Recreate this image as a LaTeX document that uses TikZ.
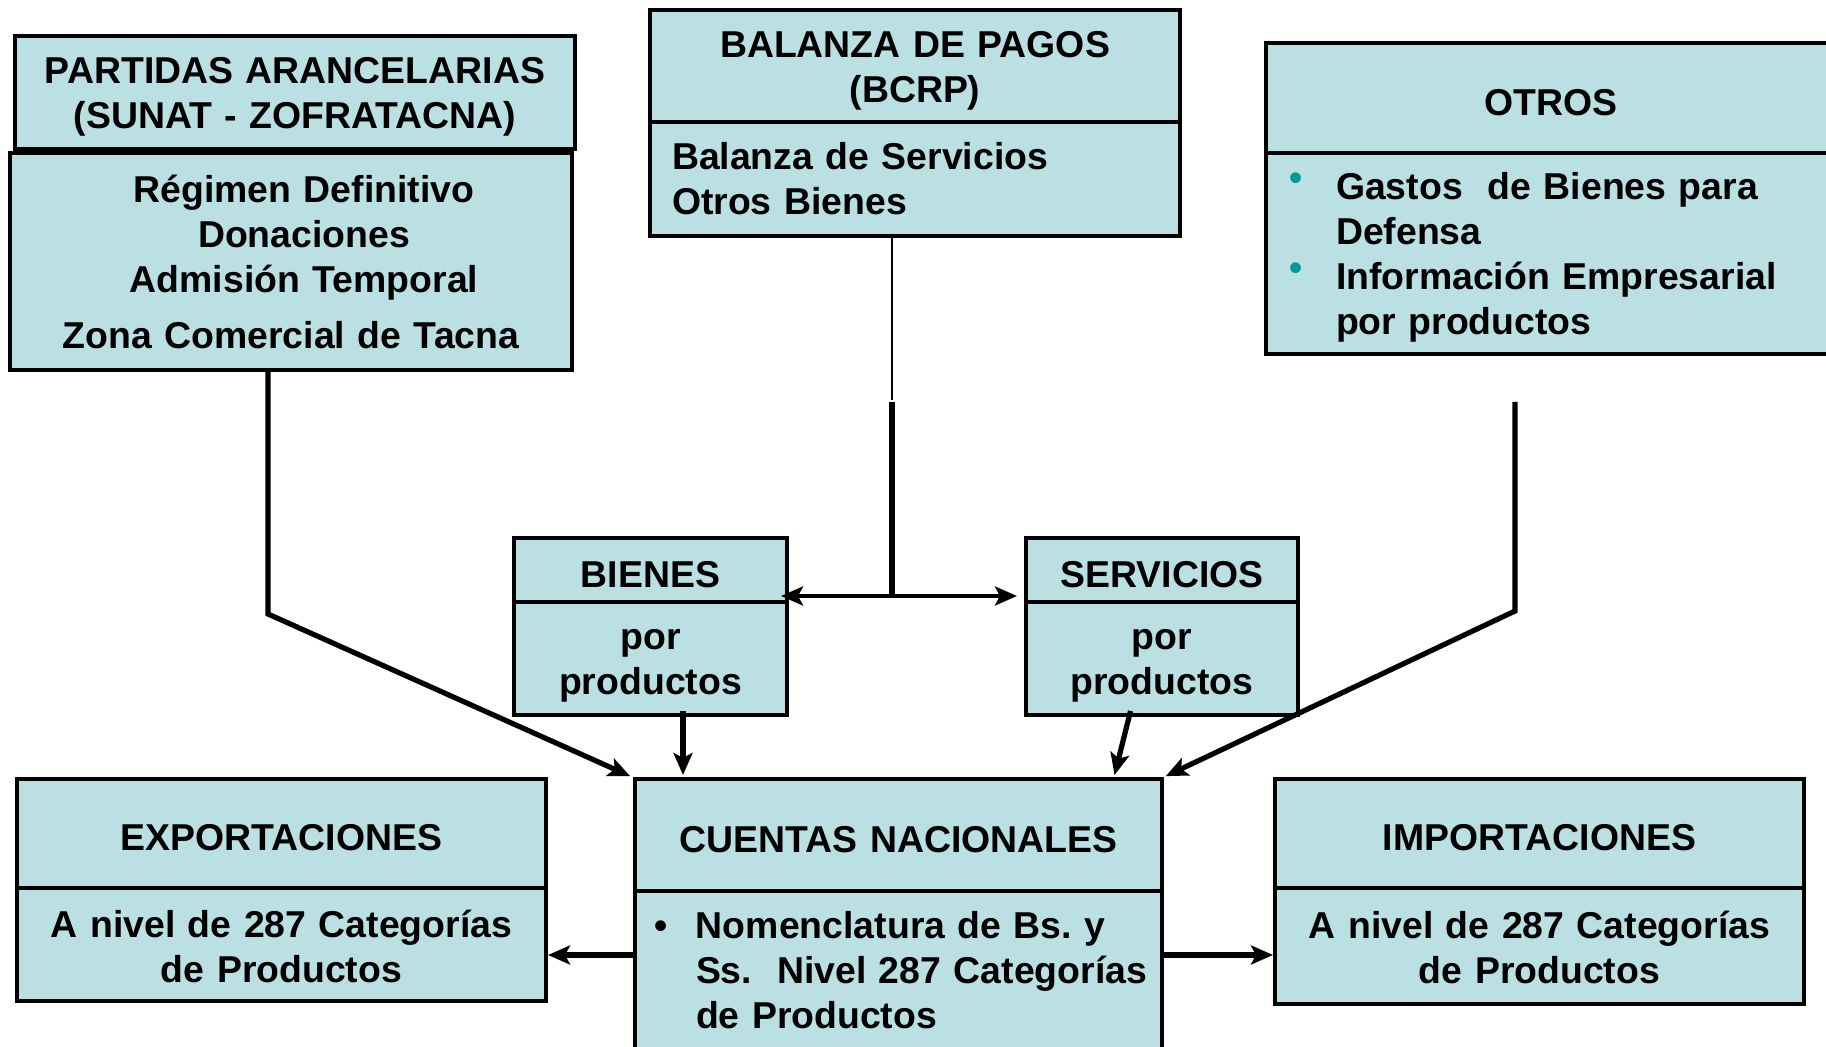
\documentclass[tikz,border=0pt]{standalone}
\usepackage{fontspec}
\setmainfont{Liberation Sans}
\frenchspacing
\usetikzlibrary{arrows.meta,positioning}
\definecolor{celeste}{RGB}{187,224,227}
\definecolor{turquesa}{RGB}{0,153,153}
\DeclareRobustCommand{\fuente}{\fontsize{18.7}{22.5}\selectfont\bfseries\spaceskip=4.2pt\relax}
\newcommand{\alto}{\rule{0pt}{17.4pt}}
\newcommand{\bala}{\hspace*{35pt}\llap{\textcolor{turquesa}{\raisebox{4.5pt}{•}}\hspace{16.7pt}}}
\newcommand{\sangria}{\hspace*{35pt}}
\newcommand{\punto}{\hspace*{30.5pt}\llap{•\hspace{14.2pt}}}
\newcommand{\sangriac}{\hspace*{30.5pt}}

\begin{document}
\begin{tikzpicture}[x=0.5pt,y=-0.5pt,>={Stealth[length=11pt,width=9.5pt,inset=2.5pt]},shorten >=1pt,
                    font=\fuente]
  \tikzstyle{caja}=[draw=black,line width=2pt,fill=celeste,inner sep=0pt,
                    outer sep=0pt,align=center]
  \tikzstyle{linea}=[line width=2.6pt]
  \tikzstyle{flecha}=[linea,->]

  \path[use as bounding box,clip] (0,0) rectangle (1826,1047);

  % fuentes
  \node[caja,text width=280pt,minimum height=56.5pt] (PARTIDAS) at (295,92.5)
       {\alto PARTIDAS ARANCELARIAS\\(SUNAT - ZOFRATACNA)};
  \node[caja,text width=281pt,minimum height=108.5pt,below=2pt of PARTIDAS,xshift=-2pt] (REGIMEN)
       {\hspace*{13pt}Régimen Definitivo\\\hspace*{13pt}Donaciones\\\hspace*{13pt}Admisión Temporal\\[5.5pt]Zona Comercial de Tacna};
  \node[caja,text width=265pt,minimum height=56pt] (BALANZA) at (915,66)
       {\alto BALANZA DE PAGOS\\(BCRP)};
  \node[caja,text width=243pt,inner xsep=11pt,minimum height=57pt,align=left,below=0pt of BALANZA] (BALSERV)
       {Balanza de Servicios\\Otros Bienes};
  \node[caja,text width=285pt,minimum height=55pt] (OTROS) at (1551,98) {\alto OTROS};
  \node[caja,text width=285pt,minimum height=100.5pt,align=left,below=0pt of OTROS] (OTROSDET)
       {\alto\bala Gastos\ \ de Bienes para\\\sangria Defensa\\\bala Información Empresarial\\\sangria por productos};

  % intermedios
  \node[caja,text width=136.5pt,minimum height=32pt] (BIENES) at (650.5,570) {\alto BIENES};
  \node[caja,text width=136.5pt,minimum height=56.5pt,below=0pt of BIENES] (BIENPROD) {\alto por\\productos};
  \node[caja,text width=136pt,minimum height=32pt] (SERVICIOS) at (1162,570) {\alto SERVICIOS};
  \node[caja,text width=136pt,minimum height=56.5pt,below=0pt of SERVICIOS] (SERVPROD) {\alto por\\productos};

  % destino
  \node[caja,text width=264.5pt,minimum height=54.5pt] (EXPORT) at (281.5,833.5) {\alto EXPORTACIONES};
  \node[caja,text width=264.5pt,minimum height=56.5pt,below=0pt of EXPORT] (EXPDET)
       {\rule{0pt}{15.4pt}A nivel de 287 Categorías\\de Productos};
  \node[caja,text width=263.5pt,minimum height=56pt] (CUENTAS) at (898.5,835) {\alto CUENTAS NACIONALES};
  \node[caja,text width=263.5pt,minimum height=79.5pt,align=left,below=0pt of CUENTAS] (CUENTASDET)
       {\punto Nomenclatura de Bs. y\\\sangriac Ss.\ \ Nivel 287 Categorías\\\sangriac de Productos};
  \node[caja,text width=264.5pt,minimum height=54.5pt] (IMPORT) at (1539.5,833.5) {\alto IMPORTACIONES};
  \node[caja,text width=264.5pt,minimum height=58pt,below=0pt of IMPORT] (IMPDET)
       {\rule{0pt}{15.4pt}A nivel de 287 Categorías\\de Productos};

  % conectores
  \coordinate (codoP) at (268,614);
  \coordinate (bpquiebre) at (892,402);
  \coordinate (bpcruce) at (892,596);
  \coordinate (otrosini) at (1515,402);
  \coordinate (codoO) at (1515,611);

  \draw[flecha] (REGIMEN.south -| codoP) -- (codoP) -- ([xshift=-1.5pt,yshift=1pt]CUENTAS.north west);
  \draw[line width=0.8pt] (BALSERV.south -| bpquiebre) -- (bpquiebre);
  \draw[linea] (bpquiebre) -- (bpcruce);
  \draw[flecha,line width=2.1pt] (bpcruce) -- ([xshift=-4pt]BIENES.east |- bpcruce);
  \draw[flecha,line width=2.1pt] (bpcruce) -- ([xshift=-3.5pt]SERVICIOS.west |- bpcruce);
  \draw[flecha] (otrosini) -- (codoO) -- ([xshift=1pt,yshift=1pt]CUENTAS.north east);
  \draw[flecha] ([xshift=16.25pt,yshift=2pt]BIENPROD.south) -- ([xshift=16.25pt,yshift=1pt]BIENPROD.south |- CUENTAS.north);
  \draw[flecha] ([xshift=-15.75pt,yshift=2pt]SERVPROD.south) -- ([xshift=107.75pt,yshift=1pt]CUENTAS.north);
  \draw[flecha] ([yshift=7.75pt]CUENTASDET.west) -- ([yshift=7.75pt]CUENTASDET.west -| EXPDET.east);
  \draw[flecha] ([yshift=7.75pt]CUENTASDET.east) -- ([yshift=7.75pt]CUENTASDET.east -| IMPDET.west);
\end{tikzpicture}
\end{document}
